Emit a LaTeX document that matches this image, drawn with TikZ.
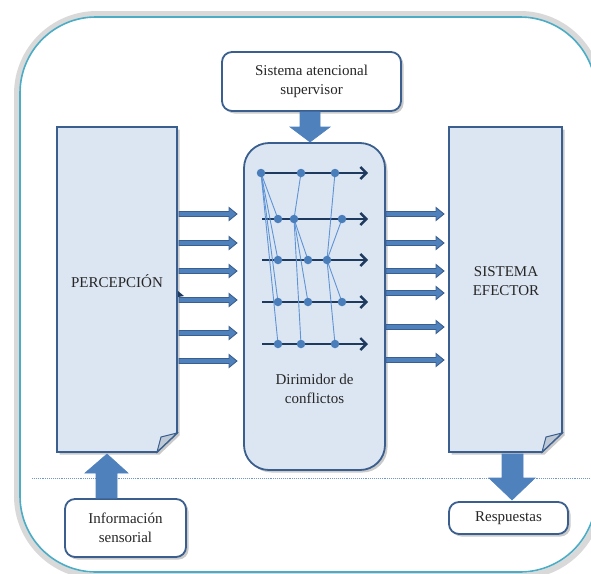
\documentclass[tikz,border=0pt]{standalone}
\usepackage{fontspec}
\setmainfont{Liberation Serif}
\usetikzlibrary{shadows,arrows.meta}
\definecolor{boxfill}{HTML}{DCE6F2}
\definecolor{boxline}{HTML}{3A5F8E}
\definecolor{arrfill}{HTML}{4F81BD}
\definecolor{frameteal}{HTML}{4BACC6}
\definecolor{navy}{HTML}{1F3A5F}
\definecolor{dotblue}{HTML}{4A7EBB}
\definecolor{linkblue}{HTML}{5E93D6}
\definecolor{foldfill}{HTML}{BFC9D6}
\tikzset{
  boxshadow/.style={drop shadow={shadow xshift=2.5pt,shadow yshift=-2.5pt,opacity=0.35,fill=black!60}},
  whitebox/.style={draw=boxline,line width=1.8pt,fill=white,rounded corners=10pt,boxshadow,align=center,inner sep=0pt,font=\fontsize{15}{19}\selectfont,text=black!85},
  bluebox/.style={draw=boxline,line width=1.8pt,fill=boxfill,boxshadow},
  blockarr/.style={draw=boxline,fill=arrfill,line width=0.9pt,line join=miter},
  bigarr/.style={draw=arrfill,fill=arrfill,line width=0.6pt},
  navyarrow/.style={draw=navy,line width=2.4pt,-{Straight Barb[length=6pt,width=12pt,line width=2.4pt]}},
  dot/.style={circle,fill=dotblue,inner sep=0pt,minimum size=8.5pt},
  link/.style={draw=linkblue,line width=0.9pt},
  lbl/.style={font=\fontsize{15}{19}\selectfont,text=black!85,align=center}
}
\newcommand{\hblockarrow}[3]{%
  \path[blockarr] (#1,#3-2.5) -- (#2-8,#3-2.5) -- (#2-8,#3-6.5) -- (#2,#3) -- (#2-8,#3+6.5) -- (#2-8,#3+2.5) -- (#1,#3+2.5) -- cycle;}
\begin{document}
\begin{tikzpicture}[x=1pt,y=-1pt]
\useasboundingbox (0,0) rectangle (591,573);
% outer frame
\draw[black!15,line width=6pt,rounded corners=80pt] (17,14) rectangle (600,576);
\draw[frameteal,line width=1.6pt,rounded corners=76pt] (20,17) rectangle (596,572);
% dotted separator
\draw[dotblue!80,densely dotted,line width=0.9pt] (32,478) -- (591,478);

% PERCEPCION box with folded corner
\path[bluebox] (57,127) -- (177,127) -- (177,433) -- (157,452) -- (57,452) -- cycle;
\path[draw=boxline,line width=1pt,fill=foldfill] (157,452) -- (161,437) -- (177,433) -- cycle;
\node[lbl] (perc) at (117,281) {PERCEPCIÓN};
\fill[navy] (178,291) -- (184,296) -- (178,297) -- cycle;

% SISTEMA EFECTOR box with folded corner
\path[bluebox] (449,127) -- (562,127) -- (562,433) -- (542,452) -- (449,452) -- cycle;
\path[draw=boxline,line width=1pt,fill=foldfill] (542,452) -- (546,437) -- (562,433) -- cycle;
\node[lbl] (efec) at (506,281) {SISTEMA\\EFECTOR};

% Dirimidor box
\node[bluebox,rounded corners=25pt,minimum width=141pt,minimum height=327pt,inner sep=0pt] (dir) at (314.5,306.5) {};
\node[lbl] (dirtxt) at (314.5,389) {Dirimidor de\\conflictos};

% top box
\node[whitebox,minimum width=179pt,minimum height=59pt] (sas) at (311.5,81.5) {Sistema atencional\\supervisor};
% bottom boxes
\node[whitebox,minimum width=121pt,minimum height=58pt] (info) at (125.5,528) {Información\\sensorial};
\node[whitebox,minimum width=119pt,minimum height=32pt] (resp) at (508.5,518) {Respuestas};

% big block arrows
\path[bigarr] (300,112) -- (320,112) -- (320,127) -- (330,127) -- (310,142) -- (290,127) -- (300,127) -- cycle;
\path[bigarr] (96,498) -- (117,498) -- (117,473) -- (128,473) -- (107,454) -- (85,473) -- (96,473) -- cycle;
\path[bigarr] (502,454) -- (523,454) -- (523,478) -- (535,478) -- (512,500) -- (489,478) -- (502,478) -- cycle;

% small block arrows left
\foreach \yy in {214,243,271,300,333,361} {\hblockarrow{179}{237}{\yy}}
% small block arrows right
\foreach \yy in {214,243,271,293,327,360} {\hblockarrow{386}{444}{\yy}}

% inner arrows
\foreach \i/\yy in {1/173,2/219,3/260,4/302,5/344} {
  \coordinate (L\i) at (262,\yy);
  \coordinate (R\i) at (368,\yy);
  \draw[navyarrow] (L\i) -- (R\i);
}
% dot positions
\coordinate (a1) at (261,173);
\coordinate (a2) at (301,173);
\coordinate (a3) at (335,173);
\coordinate (b1) at (278,219);
\coordinate (b2) at (294,219);
\coordinate (b3) at (342,219);
\coordinate (c1) at (278,260);
\coordinate (c2) at (308,260);
\coordinate (c3) at (327,260);
\coordinate (d1) at (278,302);
\coordinate (d2) at (308,302);
\coordinate (d3) at (342,302);
\coordinate (e1) at (278,344);
\coordinate (e2) at (301,344);
\coordinate (e3) at (335,344);
% links
\draw[link] (a1) -- (b1);
\draw[link] (a1) -- (c1);
\draw[link] (a1) -- (d1);
\draw[link] (a1) -- (e1);
\draw[link] (a2) -- (b2);
\draw[link] (a3) -- (c3);
\draw[link] (b2) -- (c2);
\draw[link] (b2) -- (d2);
\draw[link] (b2) -- (e2);
\draw[link] (b3) -- (c3);
\draw[link] (c3) -- (d3);
\draw[link] (c3) -- (e3);
% dots
\foreach \p in {a1,a2,a3,b1,b2,b3,c1,c2,c3,d1,d2,d3,e1,e2,e3} {
  \node[dot] (dot-\p) at (\p) {};
}
\end{tikzpicture}
\end{document}
